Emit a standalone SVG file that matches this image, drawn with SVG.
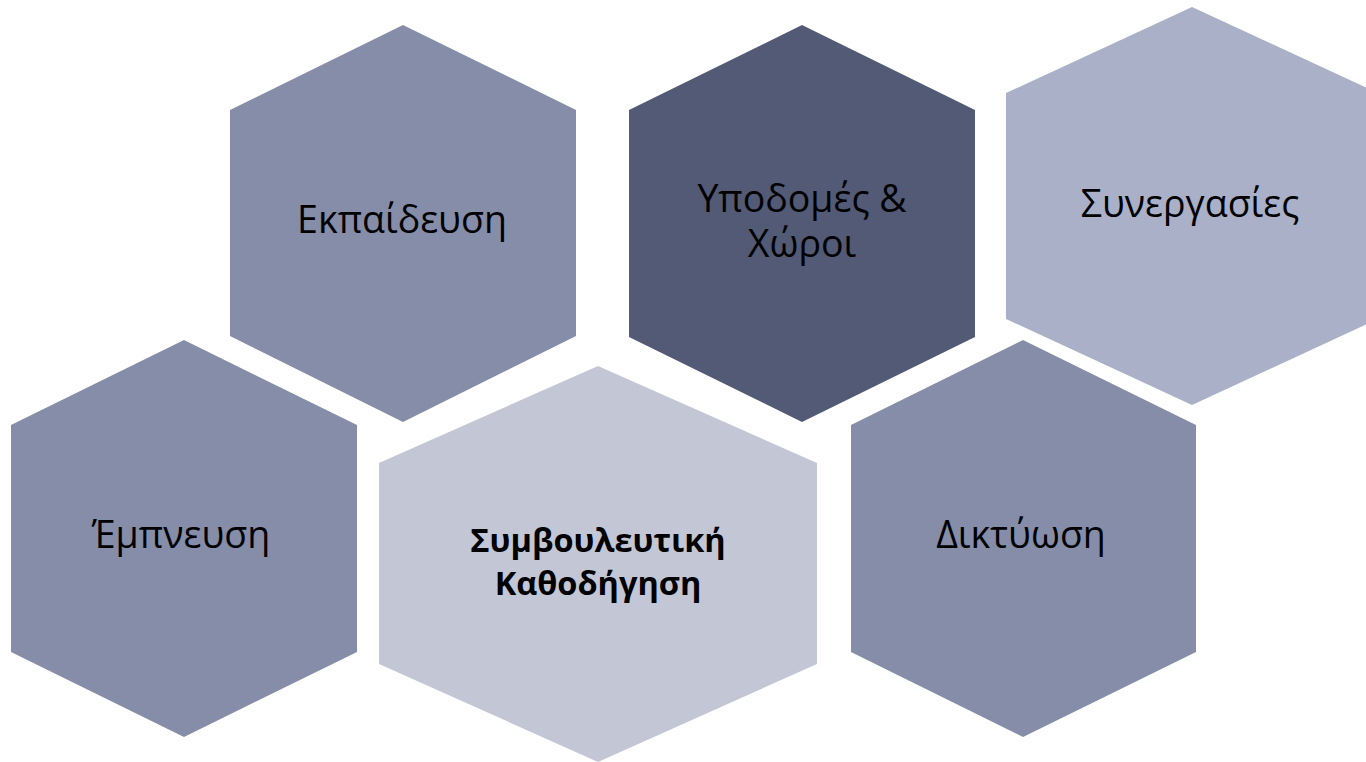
<svg xmlns="http://www.w3.org/2000/svg" width="1366" height="762" viewBox="0 0 1366 762">
<style>
.t{font-family:"Open Sans","Noto Sans","DejaVu Sans",sans-serif;font-size:37.5px;fill:#000;text-anchor:middle}
.b{font-weight:bold;font-size:32.5px}
.mid{fill:#868DA8}
.dark{fill:#525A75}
.light{fill:#AAB0C8}
.pale{fill:#C2C6D5}
</style>
<rect width="1366" height="762" fill="#fff"/>
<g id="connectors"></g>
<g id="node-ekpaidefsi">
<polygon class="mid" points="403,25 576,110 576,336 403,422 230,336 230,110"/>
<text class="t" x="402" y="233">Εκπαίδευση</text>
</g>
<g id="node-ypodomes">
<polygon class="dark" points="802,25 975,110 975,337 802,422 629,337 629,110"/>
<text class="t" x="802" y="212">Υποδομές &amp;</text>
<text class="t" x="802" y="257">Χώροι</text>
</g>
<g id="node-synergasies">
<polygon class="light" points="1192,7 1378,93 1378,319 1192,405 1006,319 1006,93"/>
<text class="t" x="1190" y="217">Συνεργασίες</text>
</g>
<g id="node-empnefsi">
<polygon class="mid" points="184,340 357,425 357,652 184,737 11,652 11,425"/>
<text class="t" x="181" y="548">Έμπνευση</text>
</g>
<g id="node-symvouleftiki">
<polygon class="pale" points="598,366 817,463 817,664 598,762 379,664 379,463"/>
<text class="t b" x="598" y="552">Συμβουλευτική</text>
<text class="t b" x="598" y="595">Καθοδήγηση</text>
</g>
<g id="node-diktyosi">
<polygon class="mid" points="1023,340 1196,425 1196,652 1023,737 851,652 851,425"/>
<text class="t" x="1021" y="548">Δικτύωση</text>
</g>
</svg>
